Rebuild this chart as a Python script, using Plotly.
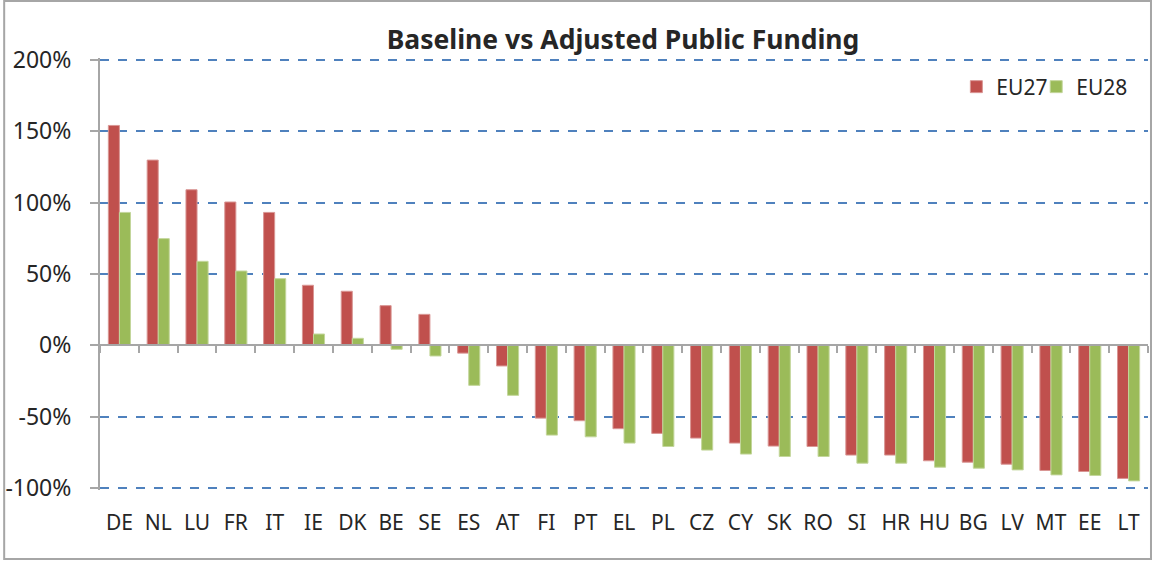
import plotly.graph_objects as go

categories = ["DE", "NL", "LU", "FR", "IT", "IE", "DK", "BE", "SE", "ES", "AT", "FI", "PT", "EL",
              "PL", "CZ", "CY", "SK", "RO", "SI", "HR", "HU", "BG", "LV", "MT", "EE", "LT"]
eu27 = [154.2, 129.9, 109.1, 100.5, 93.2, 42.1, 37.9, 27.8, 21.7, -5.5, -14.5, -51.1, -52.9, -58.5,
        -61.8, -65.1, -68.6, -70.7, -71.0, -77.0, -77.0, -81.0, -82.0, -83.4, -87.8, -88.5, -93.4]
eu28 = [93.2, 74.8, 58.9, 52.1, 46.7, 7.9, 4.9, -2.8, -7.5, -28.1, -35.1, -63.0, -64.2, -68.6,
        -71.0, -73.5, -76.3, -78.0, -78.0, -82.7, -82.7, -85.5, -86.2, -87.4, -90.9, -91.3, -95.1]
y_ticks = [-100, -50, 0, 50, 100, 150, 200]
y_tick_labels = ["-100%", "-50%", "0%", "50%", "100%", "150%", "200%"]

FONT = "Noto Sans"
TXT = "#262626"
GRAY = "#A6A6A6"

Y_MIN, Y_MAX = -101.5, 201.5
TOP, BOT = 58, 561 - 71  # plot area pixel edges
H = BOT - TOP
LEFT, RIGHT = 98, 1148
W = RIGHT - LEFT


def py(v):
    """paper y fraction for a pixel row"""
    return (BOT - v) / H


def px(v):
    """paper x fraction for a pixel column"""
    return (v - LEFT) / W


fig = go.Figure()
fig.add_trace(go.Bar(name="EU27", x=categories, y=eu27, marker_color="#C0504D",
                     marker_line=dict(color="#D99694", width=1), legend="legend"))
fig.add_trace(go.Bar(name="EU28", x=categories, y=eu28, marker_color="#9BBB59",
                     marker_line=dict(color="#C3D69B", width=1), legend="legend2"))
# helper trace for the zero-line category axis with boundary ticks
fig.add_trace(go.Scatter(x=categories, y=[0] * len(categories), xaxis="x2", mode="markers",
                         marker=dict(opacity=0), showlegend=False, hoverinfo="skip"))

legend_common = dict(orientation="h", xanchor="left", y=py(87), yanchor="middle",
                     font=dict(size=21, color=TXT), bgcolor="rgba(0,0,0,0)", itemwidth=30)

fig.update_layout(
    width=1153, height=561,
    margin=dict(l=LEFT, r=1153 - RIGHT, t=TOP, b=561 - BOT),
    paper_bgcolor="white", plot_bgcolor="white",
    font=dict(family=FONT, color=TXT, size=21),
    title=dict(text="<b>Baseline vs Adjusted Public Funding</b>", x=(LEFT + RIGHT) / 2 / 1153,
               xanchor="center", y=1 - 39.5 / 561, yanchor="middle",
               font=dict(family=FONT, size=26.5, color=TXT)),
    barmode="group", bargap=0.43, bargroupgap=0,
    legend=dict(x=px(956), **legend_common),
    legend2=dict(x=px(1036), **legend_common),
    xaxis=dict(type="category", showline=False, showgrid=False, ticks="",
               ticklabelstandoff=18, tickfont=dict(size=21, color=TXT),
               range=[-0.5, len(categories) - 0.5]),
    xaxis2=dict(type="category", overlaying="x", anchor="free",
                position=(0 - Y_MIN) / (Y_MAX - Y_MIN),
                range=[-0.5, len(categories) - 0.5], showline=True, linecolor=GRAY, linewidth=2,
                ticks="outside", tickson="boundaries", ticklen=7, tickwidth=2, tickcolor=GRAY,
                showticklabels=False, showgrid=False),
    yaxis=dict(range=[Y_MIN, Y_MAX], tickvals=y_ticks, ticktext=y_tick_labels,
               showline=True, linecolor=GRAY, linewidth=2, ticks="outside", ticklen=8,
               tickwidth=2, tickcolor=GRAY, ticklabelstandoff=14,
               showgrid=True, gridcolor="#4F81BD", gridwidth=1.5, griddash="dash",
               zeroline=False, tickfont=dict(size=23, color=TXT)),
    shapes=[dict(type="rect", xref="paper", yref="paper",
                 x0=px(2), x1=px(1151),
                 y0=py(559), y1=py(1),
                 line=dict(color=GRAY, width=2), fillcolor="rgba(0,0,0,0)", layer="below")],
)

fig.write_html("out.html", config={"displayModeBar": False},
               post_script="document.body.style.margin='0';")
